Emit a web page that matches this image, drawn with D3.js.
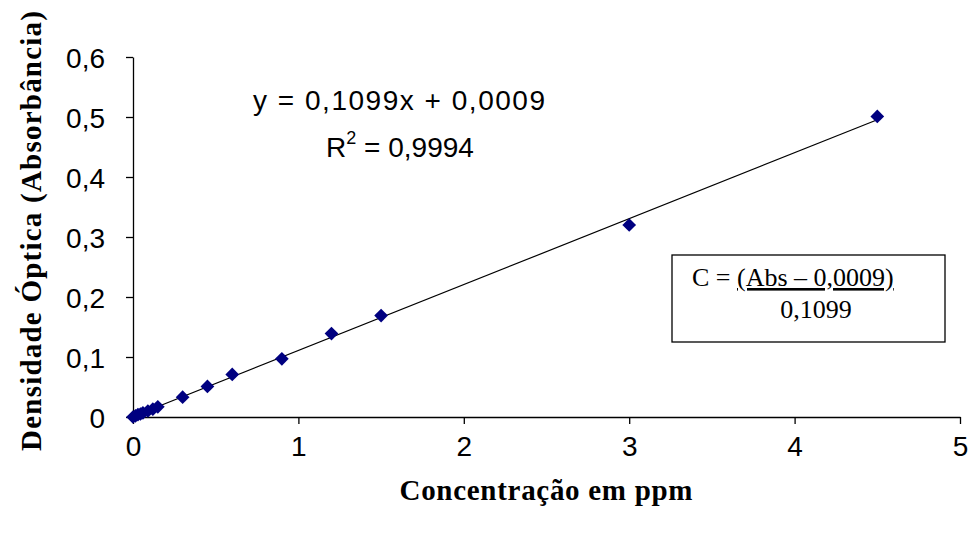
<!DOCTYPE html>
<html>
<head>
<meta charset="utf-8">
<script src="https://cdn.jsdelivr.net/npm/d3@7"></script>
<style>
  body { margin: 0; background: #fff; }
  svg { display: block; }
</style>
</head>
<body>
<svg width="970" height="534"></svg>
<script>
// data
const conc = [0, 0.015, 0.03, 0.045, 0.06, 0.09, 0.12, 0.15, 0.3, 0.45, 0.6, 0.9, 1.2, 1.5, 3, 4.5];
const abs  = [0, 0.002, 0.004, 0.005, 0.007, 0.010, 0.013, 0.017, 0.033, 0.051, 0.071, 0.097, 0.139, 0.169, 0.320, 0.501];
const xTicks = [0, 1, 2, 3, 4, 5];
const yTicks = [0, 0.1, 0.2, 0.3, 0.4, 0.5, 0.6];
const slope = 0.1099;
const intercept = 0.0009;

const svg = d3.select('svg');
const plotLeft = 133, plotRight = 960, plotTop = 57, plotBottom = 417;

const xScale = d3.scaleLinear().domain([0, 5]).range([plotLeft, plotRight]);
const yScale = d3.scaleLinear().domain([0, 0.6]).range([plotBottom, plotTop]);

const fmt = d => String(d).replace('.', ',');

// axes
const xAxis = d3.axisBottom(xScale).tickValues(xTicks).tickFormat(fmt).tickSize(7).tickSizeOuter(0).tickPadding(12);
const yAxis = d3.axisLeft(yScale).tickValues(yTicks).tickFormat(fmt).tickSize(7).tickSizeOuter(0).tickPadding(21);

const gx = svg.append('g').attr('transform', `translate(0, ${plotBottom})`).call(xAxis);
const gy = svg.append('g').attr('transform', `translate(${plotLeft}, 0)`).call(yAxis);

[gx, gy].forEach(g => {
  g.selectAll('path, line').attr('stroke', '#000').attr('stroke-width', 1.3);
  g.selectAll('text')
    .attr('fill', '#000')
    .style('font-family', '"Liberation Sans", Arial, sans-serif')
    .style('font-size', '28px');
});
gy.selectAll('text').attr('dy', '0.36em');
gx.selectAll('text').attr('dy', '0.72em');

// trend line
svg.append('line')
   .attr('x1', xScale(0)).attr('y1', yScale(intercept))
   .attr('x2', xScale(4.5)).attr('y2', yScale(slope * 4.5 + intercept))
   .attr('stroke', '#000').attr('stroke-width', 1.2);

// markers
svg.selectAll('path.pt')
   .data(conc)
   .enter()
   .append('path')
      .attr('class', 'pt')
      .attr('d', d3.symbol().type(d3.symbolDiamond2).size(120))
      .attr('transform', (d, i) => `translate(${xScale(d)}, ${yScale(abs[i])})`)
      .attr('fill', '#000080');

// axis titles
svg.append('text').attr('x', 546)
   .attr('y', 500)
   .attr('textLength', 293)
   .style('text-anchor', 'middle')
   .style('font-family', '"Liberation Serif", "Times New Roman", serif')
   .style('font-weight', 'bold')
   .style('font-size', '29px')
   .text('Concentração em ppm');

svg.append('text').attr('transform', 'rotate(-90)')
   .attr('x', -231)
   .attr('y', 41)
   .attr('textLength', 440)
   .style('text-anchor', 'middle')
   .style('font-family', '"Liberation Serif", "Times New Roman", serif')
   .style('font-weight', 'bold')
   .style('font-size', '29px')
   .text('Densidade Óptica (Absorbância)');

// regression equation
const eq = svg.append('g')
   .style('font-family', '"Liberation Sans", Arial, sans-serif')
   .style('font-size', '28px')
   .attr('fill', '#000');
eq.append('text').attr('x', 399).attr('y', 110).style('text-anchor', 'middle')
  .attr('textLength', 292)
  .text('y = 0,1099x + 0,0009');
const r2 = eq.append('text').attr('x', 400).attr('y', 157).style('text-anchor', 'middle');
r2.append('tspan').text('R');
r2.append('tspan').attr('dy', -13).style('font-size', '18px').text('2');
r2.append('tspan').attr('dy', 13).text(' = 0,9994');

// formula box
const box = svg.append('g')
   .style('font-family', '"Liberation Serif", "Times New Roman", serif')
   .style('font-size', '26px')
   .attr('fill', '#000');
box.append('rect').attr('x', 672).attr('y', 255).attr('width', 273).attr('height', 87)
   .attr('fill', '#fff').attr('stroke', '#000').attr('stroke-width', 1.3);
const c = box.append('text').attr('x', 692).attr('y', 286);
c.append('tspan').text('C = ');
c.append('tspan')
  .style('text-decoration', 'underline')
  .style('text-decoration-skip-ink', 'none')
  .text('(Abs – 0,0009)');
box.append('text').attr('x', 816).attr('y', 318).style('text-anchor', 'middle').text('0,1099');
</script>
</body>
</html>
